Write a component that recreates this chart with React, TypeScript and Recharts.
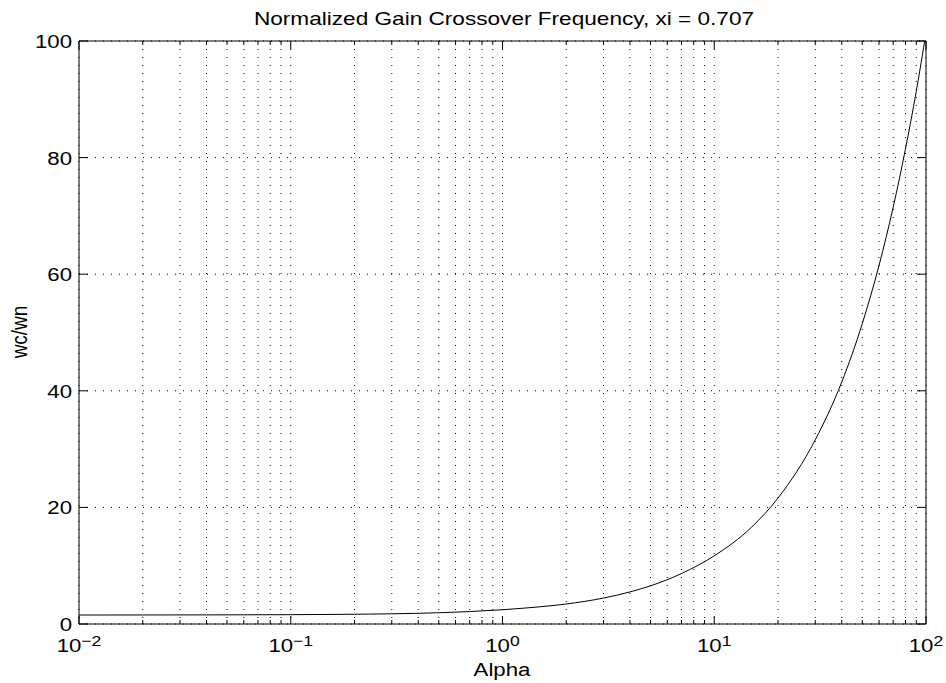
import { LineChart, Line, XAxis, YAxis, CartesianGrid } from "recharts"

// values
const alphaValues = [0.01, 0.02, 0.05, 0.1, 0.2, 0.3, 0.5, 0.7, 1, 1.5, 2, 3, 4, 5, 7, 10, 15, 20, 30, 40, 50, 60, 70, 80, 90, 100]
const wcRatio = [1.54, 1.55, 1.57, 1.6, 1.67, 1.75, 1.93, 2.13, 2.45, 2.95, 3.43, 4.45, 5.5, 6.55, 8.65, 11.7, 16.6, 21.6, 31.6, 41.5, 51.5, 61.5, 71.5, 81.5, 91.4, 101.4]

const majorX = [0.01, 0.1, 1, 10, 100]
const majorXLabels = ["−2", "−1", "0", "1", "2"]
const minorMultipliers = [2, 3, 4, 5, 6, 7, 8, 9]
const yTicks = [0, 20, 40, 60, 80, 100]

const xTicks = [
    ...majorX,
    ...majorX.slice(0, -1).flatMap((d) => minorMultipliers.map((m) => +(d * m).toPrecision(3))),
].sort((a, b) => a - b)

const data = alphaValues.map((alpha, i) => ({ alpha, wc: wcRatio[i] }))

const font = "'Liberation Sans', Arial, Helvetica, sans-serif"
// the reference text is a little stretched sideways
const stretch = 1.17

const isMajor = (v: number) => majorX.some((m) => Math.abs(m - v) < 1e-9)

function BottomTick(props: any) {
    const { x, y, payload } = props
    const major = isMajor(payload.value)
    const idx = majorX.findIndex((m) => Math.abs(m - payload.value) < 1e-9)
    return (
        <g>
            <line x1={x} x2={x} y1={y} y2={y - (major ? 8 : 4)} stroke="#000" strokeWidth={1} />
            {major && (
                <text
                    transform={`translate(${x} ${y + 28}) scale(${stretch} 1)`}
                    textAnchor="middle"
                    fontFamily={font}
                    fontSize={19}
                    fill="#000"
                >
                    10
                    <tspan dy={-6} fontSize={15}>{majorXLabels[idx]}</tspan>
                </text>
            )}
        </g>
    )
}

function TopTick(props: any) {
    const { x, y, payload } = props
    const major = isMajor(payload.value)
    return <line x1={x} x2={x} y1={y} y2={y + (major ? 8 : 4)} stroke="#000" strokeWidth={1} />
}

function LeftTick(props: any) {
    const { x, y, payload } = props
    return (
        <g>
            <line x1={x} x2={x + 9} y1={y} y2={y} stroke="#000" strokeWidth={1} />
            <text
                transform={`translate(${x - 7} ${y + 7}) scale(${stretch} 1)`}
                textAnchor="end"
                fontFamily={font}
                fontSize={19}
                fill="#000"
            >
                {payload.value}
            </text>
        </g>
    )
}

function RightTick(props: any) {
    const { x, y } = props
    return <line x1={x} x2={x - 9} y1={y} y2={y} stroke="#000" strokeWidth={1} />
}

export default function App() {
    return (
        <div style={{ position: "absolute", left: 0, top: 0, width: 946, height: 683, background: "#fff" }}>
            <LineChart width={946} height={683} data={data} margin={{ top: 21, right: 0, bottom: 0, left: 0 }}>
                <CartesianGrid stroke="#000" strokeDasharray="1 7" strokeWidth={1} />
                <XAxis
                    dataKey="alpha"
                    type="number"
                    scale="log"
                    domain={[0.01, 100]}
                    allowDataOverflow
                    ticks={xTicks}
                    interval={0}
                    height={59}
                    tickSize={0}
                    tickMargin={0}
                    tickLine={false}
                    tick={<BottomTick />}
                    axisLine={{ stroke: "#000" }}
                />
                <XAxis
                    xAxisId="top"
                    orientation="top"
                    dataKey="alpha"
                    type="number"
                    scale="log"
                    domain={[0.01, 100]}
                    allowDataOverflow
                    ticks={xTicks}
                    interval={0}
                    height={20}
                    tickSize={0}
                    tickMargin={0}
                    tickLine={false}
                    tick={<TopTick />}
                    axisLine={{ stroke: "#000" }}
                />
                <YAxis
                    type="number"
                    domain={[0, 100]}
                    allowDataOverflow
                    ticks={yTicks}
                    interval={0}
                    width={79}
                    tickSize={0}
                    tickMargin={0}
                    tickLine={false}
                    tick={<LeftTick />}
                    axisLine={{ stroke: "#000" }}
                />
                <YAxis
                    yAxisId="right"
                    orientation="right"
                    type="number"
                    domain={[0, 100]}
                    allowDataOverflow
                    ticks={yTicks}
                    interval={0}
                    width={20}
                    tickSize={0}
                    tickMargin={0}
                    tickLine={false}
                    tick={<RightTick />}
                    axisLine={{ stroke: "#000" }}
                />
                <Line
                    type="monotone"
                    dataKey="wc"
                    stroke="#000"
                    strokeWidth={1}
                    dot={false}
                    isAnimationActive={false}
                />
            </LineChart>
            <svg width={946} height={683} style={{ position: "absolute", left: 0, top: 0, pointerEvents: "none" }}>
                <text
                    transform={`translate(504 25) scale(1.19 1)`}
                    textAnchor="middle"
                    fontFamily={font}
                    fontSize={19}
                    fill="#000"
                >
                    Normalized Gain Crossover Frequency, xi = 0.707
                </text>
                <text
                    transform={`translate(502 676) scale(${stretch} 1)`}
                    textAnchor="middle"
                    fontFamily={font}
                    fontSize={19}
                    fill="#000"
                >
                    Alpha
                </text>
                <text
                    transform={`translate(27 332) scale(${stretch} 1) rotate(-90)`}
                    textAnchor="middle"
                    fontFamily={font}
                    fontSize={19}
                    fill="#000"
                >
                    wc/wn
                </text>
            </svg>
        </div>
    )
}
